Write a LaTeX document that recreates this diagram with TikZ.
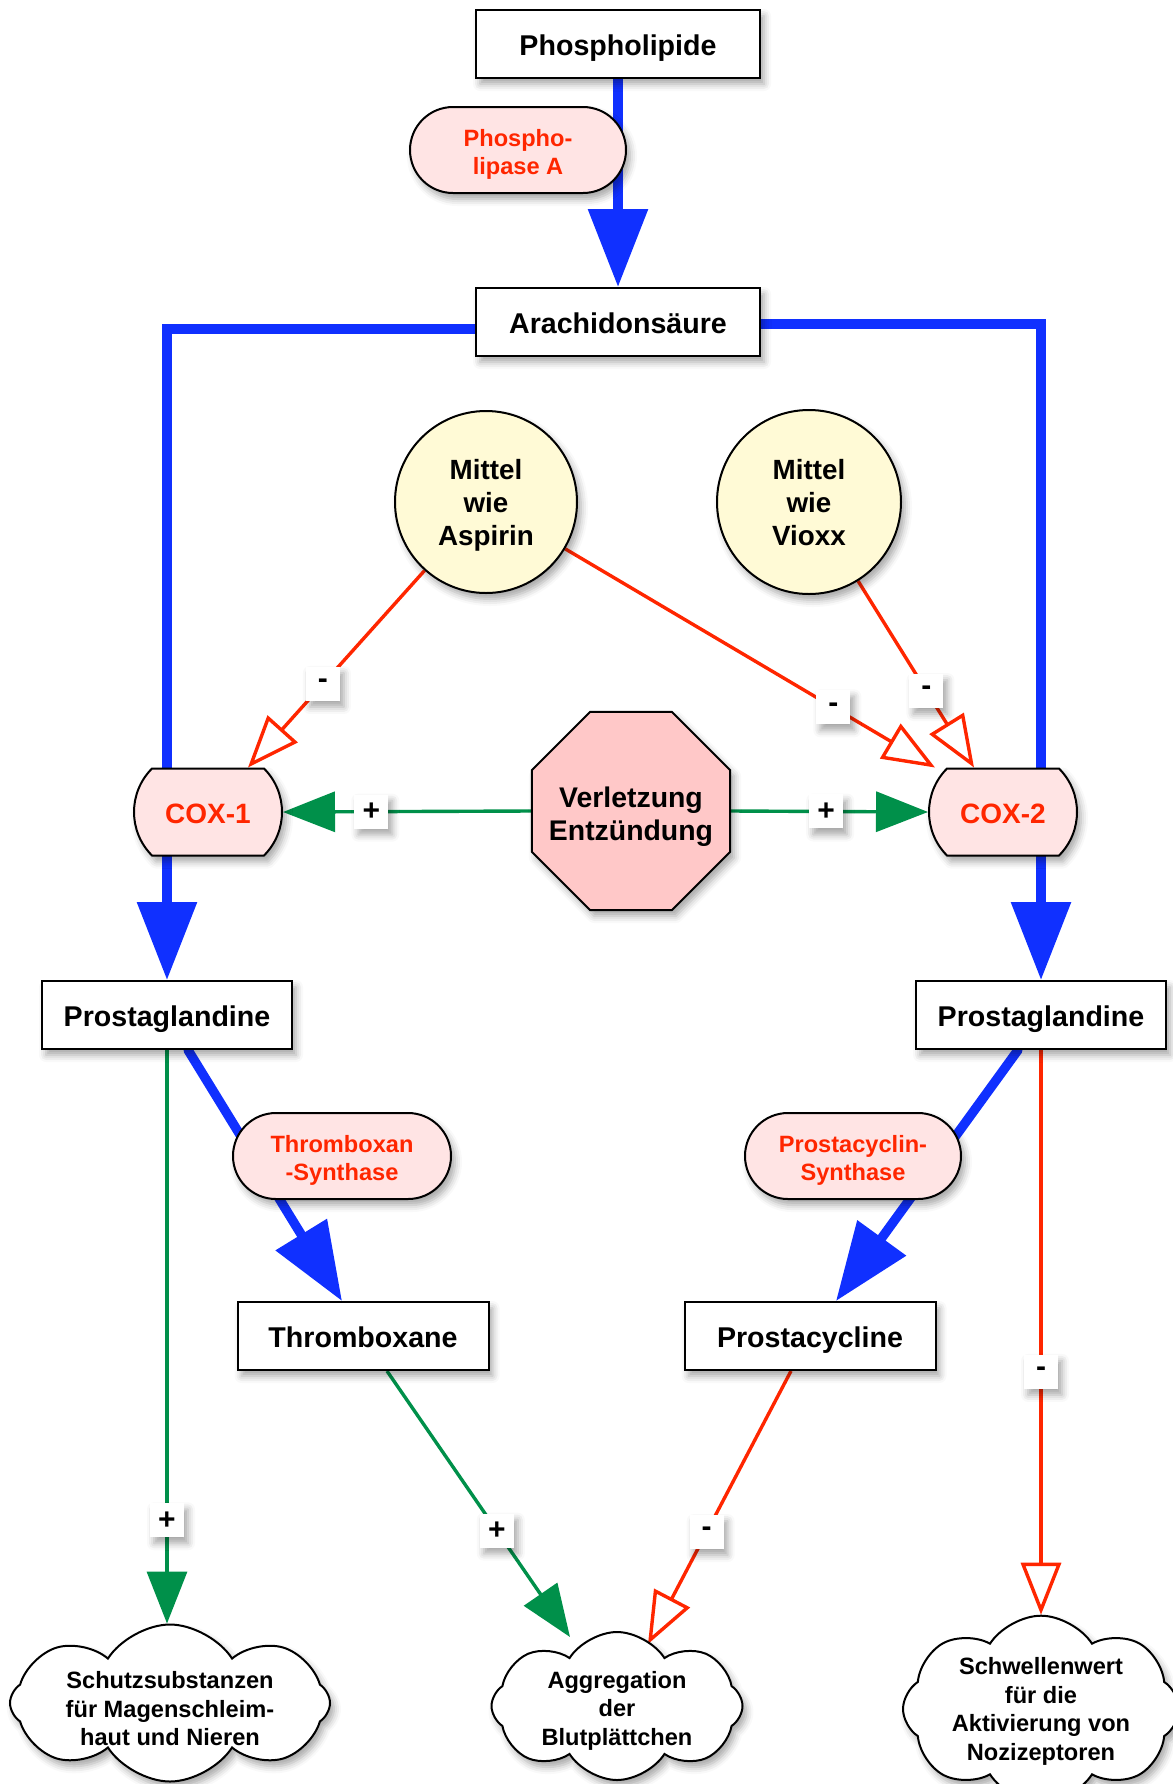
\documentclass[tikz,border=0pt]{standalone}
\usepackage{fontspec}
\setmainfont{Liberation Sans}
\usetikzlibrary{arrows.meta,shapes.misc,shapes.geometric,shapes.symbols,shadows.blur}
\definecolor{cblue}{HTML}{1030FF}
\definecolor{cred}{HTML}{FF2600}
\definecolor{cgreen}{HTML}{00904A}
\definecolor{pillfill}{HTML}{FFE4E4}
\definecolor{octfill}{HTML}{FFC8C8}
\definecolor{circfill}{HTML}{FFFAD6}
\pgfdeclarelayer{bg}
\pgfsetlayers{bg,main}
\begin{document}
\begin{tikzpicture}[x=0.5pt,y=-0.5pt,
 shd/.style={blur shadow={shadow xshift=2pt,shadow yshift=-3pt,shadow blur radius=3.5pt,shadow opacity=35}},
 box/.style={rectangle,draw=black,line width=1pt,fill=white,minimum height=34pt,inner sep=0pt,text height=11.5pt,text depth=0pt,font=\fontsize{14.3}{17}\selectfont\bfseries,shd},
 pill/.style={rounded rectangle,draw=black,line width=1pt,fill=pillfill,text=cred,minimum width=108pt,minimum height=43pt,align=center,inner sep=0pt,text height=24.9pt,text depth=0pt,font=\fontsize{11.8}{14}\selectfont\bfseries,shd},
 coxbox/.style={rounded rectangle,rounded rectangle arc length=90,draw=black,line width=1pt,fill=pillfill,text=cred,minimum width=74pt,minimum height=43.5pt,inner sep=0pt,text height=11.3pt,text depth=0pt,font=\fontsize{14}{17}\selectfont\bfseries,shd},
 circ/.style={circle,draw=black,line width=1pt,fill=circfill,minimum size=91pt,inner sep=0pt,align=center,text depth=0pt,font=\fontsize{13.9}{16.5}\selectfont\bfseries,shd},
 octo/.style={regular polygon,regular polygon sides=8,draw=black,line width=1pt,fill=octfill,minimum size=85pt,inner sep=-6pt,align=center,text height=29.2pt,text depth=0pt,font=\fontsize{14.2}{16.5}\selectfont\bfseries,shd},
 cld/.style={cloud,cloud puffs=8,cloud puff arc=115,cloud ignores aspect,draw=black,line width=1pt,fill=white,inner sep=0pt,align=center,text depth=0pt,font=\fontsize{11.8}{14.2}\selectfont\bfseries,shd},
 lbl/.style={rectangle,fill=white,minimum size=17pt,inner sep=0pt,font=\fontsize{15}{15}\selectfont\bfseries,shd},
 bline/.style={draw=cblue,line width=4.7pt,line cap=round},
 barr/.style={bline,-{Triangle[width=29pt,length=39pt]}},
 garr/.style={draw=cgreen,line width=1.7pt,-{Triangle[width=20pt,length=26pt]}},
 rarr/.style={draw=cred,line width=1.7pt,-{Triangle[open,fill=white,width=20pt,length=26pt]}}
]
\useasboundingbox (0,0) rectangle (1173,1784);
\clip (0,0) rectangle (1173,1784);

% nodes
\node[box,minimum width=142pt] (ph) at (618,44) {Phospholipide};
\node[pill] (pla) at (518,150) {Phospho-\\lipase A};
\node[box,minimum width=142pt] (ara) at (618,322) {Arachidonsäure};
\node[circ] (asp) at (486,502) {Mittel\\wie\\Aspirin};
\node[circ,minimum size=92pt] (vio) at (809,502) {Mittel\\wie\\Vioxx};
\node[octo] (oct) at (631,811) {Verletzung\\Entzündung};
\node[coxbox] (cox1) at (208,812) {COX-1};
\node[coxbox] (cox2) at (1003,812) {COX-2};
\node[box,minimum width=125pt] (pgl1) at (167,1015) {Prostaglandine};
\node[box,minimum width=125pt] (pgl2) at (1041,1015) {Prostaglandine};
\node[pill,minimum width=109pt] (txs) at (342,1156) {Thromboxan\\-Synthase};
\node[pill] (pcs) at (853,1156) {Prostacyclin-\\Synthase};
\node[box,minimum width=125.5pt] (tx) at (363,1336) {Thromboxane};
\node[box,minimum width=125.5pt] (pc) at (810,1336) {Prostacycline};
\node[cld,minimum width=160pt,minimum height=78.5pt,inner sep=-8pt,text height=42.7pt] (cl1) at (170,1703) {Schutzsubstanzen\\für Magenschleim-\\haut und Nieren};
\node[cld,minimum width=125.5pt,minimum height=74pt,text height=39.2pt] (cl2) at (617,1706) {Aggregation\\der\\Blutplättchen};
\node[cld,minimum width=138pt,minimum height=83pt] (cl3) at (1041,1709) {Schwellenwert\\für die\\Aktivierung von\\Nozizeptoren};

% connectors
\begin{pgfonlayer}{bg}
\draw[barr] (ph.south) -- (ara.north);
\draw[bline] ([yshift=-3.5pt]ara.west) -| (cox1.north -| pgl1.north);
\draw[bline] ([yshift=-1pt]ara.east) -| (cox2.north -| pgl2.north);
\draw[barr] (cox1.south -| pgl1.north) -- (pgl1.north);
\draw[barr] (cox2.south -| pgl2.north) -- (pgl2.north);
\draw[barr] ([xshift=10.5pt]pgl1.south) -- ([xshift=-10.5pt]tx.north);
\draw[barr] ([xshift=-11.5pt]pgl2.south) -- ([xshift=13pt]pc.north);

\draw[rarr] (asp) -- node[lbl,pos=0.576]{-} ([xshift=20pt]cox1.north);
\draw[rarr] (asp) -- node[lbl,pos=0.725]{-} ([xshift=-34pt]cox2.north);
\draw[rarr] (vio) -- node[lbl,pos=0.59]{-} ([xshift=-14.5pt]cox2.north);

\draw[garr] (oct.west) -- node[lbl,pos=0.644]{+} (cox1.east);
\draw[garr] (oct.east) -- node[lbl,pos=0.483]{+} (cox2.west);

\draw[garr] (pgl1.south) -- node[lbl,pos=0.82]{+} (pgl1.south |- cl1.north);
\draw[garr] ([xshift=12pt]tx.south) -- node[lbl,pos=0.6]{+} ([xshift=-23.5pt,yshift=-3pt]cl2.north);
\draw[rarr] ([xshift=-9.5pt]pc.south) -- node[lbl,pos=0.59]{-} ([xshift=15.5pt,yshift=-6.5pt]cl2.north);
\draw[rarr] (pgl2.south) -- node[lbl,pos=0.57]{-} (pgl2.south |- cl3.north);
\end{pgfonlayer}
\end{tikzpicture}
\end{document}
